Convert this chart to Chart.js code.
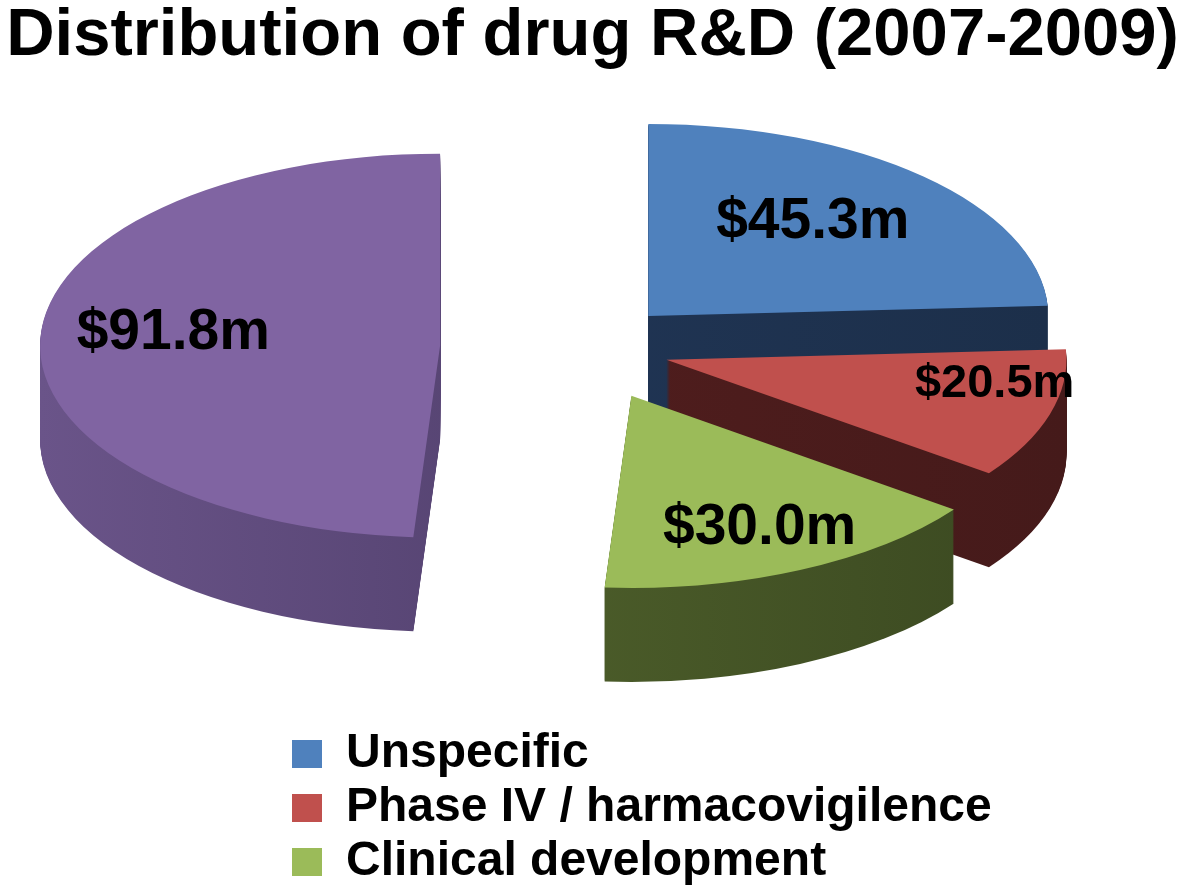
<!DOCTYPE html>
<html>
<head>
<meta charset="utf-8">
<script src="https://cdn.jsdelivr.net/npm/chart.js@4.4.0/dist/chart.umd.min.js"></script>
<style>
  html, body { margin: 0; padding: 0; background: #fff; }
  #wrap { width: 1200px; height: 891px; }
</style>
</head>
<body>
<div id="wrap"><canvas id="rdChart"></canvas></div>
<script>
// values (US$ million); the 4th slice has no legend entry
const categories = ['Unspecific', 'Phase IV / harmacovigilence', 'Clinical development', ''];
const spendMillions = [45.3, 20.5, 30.0, 91.8];

const topColors = ['#4f81bd', '#c0504d', '#9bbb59', '#8064a2'];
const sideColors = [
  ['#22385a', '#1c2f4a'],
  ['#561f1f', '#451a1a'],
  ['#56692f', '#3b4921'],
  ['#6a5489', '#463760']
];
const FONT = '"Liberation Sans", Arial, Helvetica, sans-serif';
const TILT = 0.48;                  // vertical squash of the pie plane
const DEPTH = 94;                   // slice thickness, screen px
const explode = [92, 85, 110, 145]; // radial pull-out of each slice
const labelRadius = [0.64, 0.83, 0.76, 0.67];
const labelAngle = [0.46, 0.3, 0.5, 0.52]; // where in the slice's sweep the label sits
const labelSize = [57, 47, 57, 57];

function money(v) { return '$' + v.toFixed(1) + 'm'; }

const pie3d = {
  id: 'pie3d',
  beforeDatasetsDraw(chart) {
    const ctx = chart.ctx;
    const arcs = chart.getDatasetMeta(0).data;
    const cy = arcs[0].y;
    const mid = a => (a.startAngle + a.endAngle) / 2;
    const key = (a, i) => a.y + Math.sin(mid(a)) * (explode[i] + a.outerRadius / 2);
    const order = arcs.map((a, i) => i).sort((i, j) => key(arcs[i], i) - key(arcs[j], j));

    ctx.save();
    ctx.translate(0, cy);
    ctx.scale(1, TILT);
    ctx.translate(0, -cy);

    order.forEach(i => {
      const a = arcs[i];
      const h = mid(a);
      const dx = Math.cos(h) * explode[i];
      const dy = Math.sin(h) * explode[i];
      const ox = a.x + dx, oy = a.y + dy;

      // side wall: the slice swept downwards
      const g = ctx.createLinearGradient(ox - a.outerRadius, 0, ox + a.outerRadius, 0);
      g.addColorStop(0, sideColors[i][0]);
      g.addColorStop(1, sideColors[i][1]);
      ctx.fillStyle = g;
      for (let d = DEPTH; d > 0; d -= 1) {
        const yy = oy + d / TILT;
        ctx.beginPath();
        ctx.moveTo(ox, yy);
        ctx.arc(ox, yy, a.outerRadius, a.startAngle, a.endAngle);
        ctx.closePath();
        ctx.fill();
      }

      // top face drawn by the arc element itself
      ctx.save();
      ctx.translate(dx, dy);
      a.draw(ctx);
      ctx.restore();
    });
    ctx.restore();

    // value labels
    ctx.save();
    ctx.fillStyle = '#000';
    ctx.textAlign = 'center';
    ctx.textBaseline = 'middle';
    arcs.forEach((a, i) => {
      const h = mid(a);
      const ang = a.startAngle + (a.endAngle - a.startAngle) * labelAngle[i];
      const r = labelRadius[i] * a.outerRadius;
      const x = a.x + Math.cos(h) * explode[i] + Math.cos(ang) * r;
      const uy = a.y + Math.sin(h) * explode[i] + Math.sin(ang) * r;
      const y = cy + (uy - cy) * TILT;
      ctx.font = 'bold ' + labelSize[i] + 'px ' + FONT;
      ctx.fillText(money(spendMillions[i]), x, y);
    });
    ctx.restore();
    return false;
  }
};

// put title and the stacked legend where the original has them
const placeBlocks = {
  id: 'placeBlocks',
  afterLayout(chart) {
    const t = chart.titleBlock;
    if (t) { t.left = 0; t.right = 1185; t.width = 1185; t.top = 3; t.bottom = 3 + t.height; }
    const lg = chart.legend;
    if (lg) { lg.left = 286; lg.right = 1100; lg.width = 814; lg.top = 724; lg.height = 170; lg.bottom = 894; }
  }
};

new Chart(document.getElementById('rdChart'), {
  type: 'pie',
  data: {
    labels: categories,
    datasets: [{
      data: spendMillions,
      backgroundColor: topColors,
      borderWidth: 0,
      radius: 400,
      rotation: 0,
      clip: false
    }]
  },
  plugins: [pie3d, placeBlocks],
  options: {
    responsive: true,
    maintainAspectRatio: false,
    animation: false,
    layout: { padding: { right: 30, bottom: 144 } },
    plugins: {
      title: {
        display: true,
        text: 'Distribution of drug R&D (2007-2009)',
        color: '#000',
        padding: 0,
        font: { family: FONT, size: 67, weight: 'bold', lineHeight: 1 }
      },
      legend: {
        position: 'bottom',
        align: 'start',
        labels: {
          filter: item => item.index < 3,
          boxWidth: 30,
          boxHeight: 28,
          padding: 6,
          color: '#000',
          font: { family: FONT, size: 48, weight: 'bold' }
        }
      },
      tooltip: { enabled: false }
    }
  }
});
</script>
</body>
</html>
